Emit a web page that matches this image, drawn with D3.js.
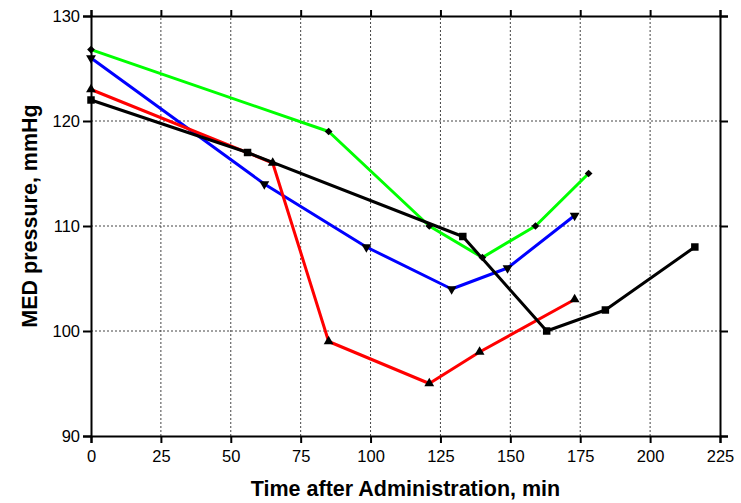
<!DOCTYPE html>
<html>
<head>
<meta charset="utf-8">
<script src="https://cdn.jsdelivr.net/npm/d3@7"></script>
<style>
  body { margin: 0; background: #fff; }
  text { font-family: "Liberation Sans", Arial, sans-serif; fill: #000; }
</style>
</head>
<body>
<div id="chart"></div>
<script>
// series data (time in min, MED pressure in mmHg)
const greenTime = [0, 85, 121, 140, 159, 178];
const greenValue = [126.8, 119, 110, 107, 110, 115];
const blueTime = [0, 62, 98.5, 129, 149, 173];
const blueValue = [126, 114, 108, 104, 106, 111];
const redTime = [0, 65, 85, 121, 139, 173];
const redValue = [123, 116, 99, 95, 98, 103];
const blackTime = [0, 56, 133, 163, 184, 216];
const blackValue = [122, 117, 109, 100, 102, 108];

const xTicks = [0, 25, 50, 75, 100, 125, 150, 175, 200, 225];
const yTicks = [90, 100, 110, 120, 130];

const width = 741, height = 503;
const margin = { top: 16, right: 21, bottom: 67, left: 91 };

const x = d3.scaleLinear().domain([0, 225]).range([margin.left, width - margin.right]);
const y = d3.scaleLinear().domain([90, 130]).range([height - margin.bottom, margin.top]);

const svg = d3.select("#chart")
  .append("svg")
  .attr("width", width)
  .attr("height", height);

// grid
svg.append("g")
  .selectAll("line")
  .data(xTicks.slice(1, -1))
  .join("line")
  .attr("x1", d => x(d)).attr("x2", d => x(d))
  .attr("y1", y(90)).attr("y2", y(130))
  .attr("stroke", "#444").attr("stroke-width", 1).attr("stroke-dasharray", "2,2");

svg.append("g")
  .selectAll("line")
  .data(yTicks.slice(1, -1))
  .join("line")
  .attr("y1", d => y(d)).attr("y2", d => y(d))
  .attr("x1", x(0)).attr("x2", x(225))
  .attr("stroke", "#444").attr("stroke-width", 1).attr("stroke-dasharray", "2,2");

// axes
const tickFont = "16.5px";
const bottomAxis = svg.append("g")
  .attr("transform", `translate(0,${y(90)})`)
  .call(d3.axisBottom(x).tickValues(xTicks).tickSize(7).tickPadding(7));
bottomAxis.selectAll("text").attr("font-size", tickFont);

const leftAxis = svg.append("g")
  .attr("transform", `translate(${x(0)},0)`)
  .call(d3.axisLeft(y).tickValues(yTicks).tickSize(8).tickPadding(3));
leftAxis.selectAll("text").attr("font-size", tickFont);

const topAxis = svg.append("g")
  .attr("transform", `translate(0,${y(130)})`)
  .call(d3.axisTop(x).tickValues(xTicks).tickSize(6).tickFormat(""));

const rightAxis = svg.append("g")
  .attr("transform", `translate(${x(225)},0)`)
  .call(d3.axisRight(y).tickValues(yTicks).tickSize(8).tickFormat(""));

[bottomAxis, leftAxis, topAxis, rightAxis].forEach(g => {
  g.select(".domain").attr("stroke-width", 2).attr("stroke", "#000");
  g.selectAll(".tick line").attr("stroke-width", 2).attr("stroke", "#000");
  g.attr("font-family", null);
});

// series
const series = [
  { name: "blue", color: "#0000ff", time: blueTime, value: blueValue, symbol: "down" },
  { name: "green", color: "#00ff00", time: greenTime, value: greenValue, symbol: "diamond" },
  { name: "red", color: "#ff0000", time: redTime, value: redValue, symbol: "up" },
  { name: "black", color: "#000000", time: blackTime, value: blackValue, symbol: "square" }
];

const line = d3.line().x(d => x(d[0])).y(d => y(d[1]));

series.forEach(s => {
  const pts = s.time.map((t, i) => [t, s.value[i]]);
  svg.append("path")
    .datum(pts)
    .attr("fill", "none")
    .attr("stroke", s.color)
    .attr("stroke-width", 3)
    .attr("stroke-linejoin", "round")
    .attr("d", line);
});

const shapes = {
  up: d3.symbol().type(d3.symbolTriangle).size(42)(),
  down: d3.symbol().type(d3.symbolTriangle).size(42)(),
  diamond: d3.symbol().type(d3.symbolSquare).size(30)(),
  square: d3.symbol().type(d3.symbolSquare).size(56)()
};

series.forEach(s => {
  const pts = s.time.map((t, i) => [t, s.value[i]]);
  svg.append("g")
    .selectAll("path")
    .data(pts)
    .join("path")
    .attr("d", shapes[s.symbol])
    .attr("fill", "#000")
    .attr("transform", d => {
      let tr = `translate(${x(d[0])},${y(d[1])})`;
      if (s.symbol === "down") tr += " rotate(180)";
      if (s.symbol === "diamond") tr += " rotate(45)";
      return tr;
    });
});

// axis titles
svg.append("text")
  .attr("x", (x(0) + x(225)) / 2)
  .attr("y", 496)
  .attr("text-anchor", "middle")
  .attr("font-size", "21.5px")
  .attr("font-weight", "bold")
  .text("Time after Administration, min");

svg.append("text")
  .attr("transform", `translate(37,216) rotate(-90)`)
  .attr("text-anchor", "middle")
  .attr("font-size", "21.5px")
  .attr("font-weight", "bold")
  .text("MED pressure, mmHg");
</script>
</body>
</html>
